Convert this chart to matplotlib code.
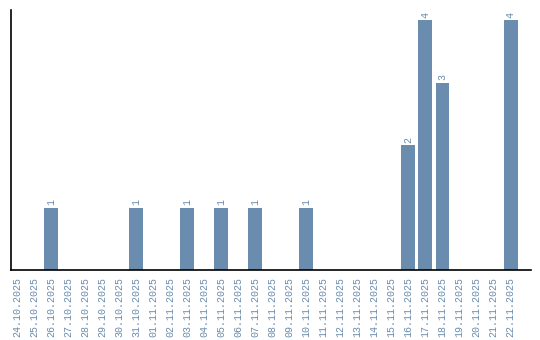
import matplotlib
matplotlib.use("Agg")
import matplotlib.pyplot as plt
import numpy as np

dates = ["24.10.2025", "25.10.2025", "26.10.2025", "27.10.2025", "28.10.2025",
         "29.10.2025", "30.10.2025", "31.10.2025", "01.11.2025", "02.11.2025",
         "03.11.2025", "04.11.2025", "05.11.2025", "06.11.2025", "07.11.2025",
         "08.11.2025", "09.11.2025", "10.11.2025", "11.11.2025", "12.11.2025",
         "13.11.2025", "14.11.2025", "15.11.2025", "16.11.2025", "17.11.2025",
         "18.11.2025", "19.11.2025", "20.11.2025", "21.11.2025", "22.11.2025"]
counts = [0, 0, 1, 0, 0, 0, 0, 1, 0, 0,
          1, 0, 1, 0, 1, 0, 0, 1, 0, 0,
          0, 0, 0, 2, 4, 3, 0, 0, 0, 4]

color = "#6a8caf"
font = "Liberation Mono"
fig = plt.figure(figsize=(5.4, 3.4), dpi=100)
ax = fig.add_axes([11/540, 70/340, 520/540, 260/340])
x = np.arange(len(dates))
ax.bar(x, counts, width=0.82, color=color)
for xi, v in zip(x, counts):
    if v > 0:
        ax.text(xi, v + 0.04, str(v), rotation=90, ha="center", va="bottom",
                color=color, fontsize=7.2, family=font)
ax.set_xlim(-0.35, 30.2)
ax.set_ylim(0, 4.16)
ax.set_xticks(x)
ax.set_xticklabels(dates, rotation=90, color=color, fontsize=7.2, family=font)
ax.tick_params(axis="x", length=0, pad=5)
ax.set_yticks([])
ax.spines["top"].set_visible(False)
ax.spines["right"].set_visible(False)
ax.spines["left"].set_linewidth(1.2)
ax.spines["bottom"].set_linewidth(1.2)
fig.savefig("out.png", dpi=100)
